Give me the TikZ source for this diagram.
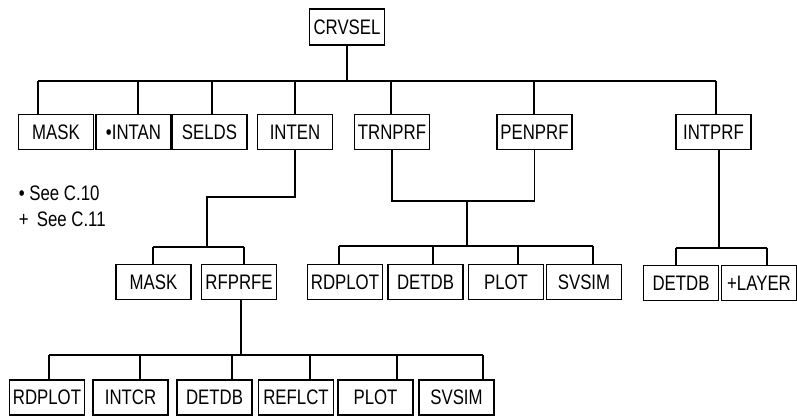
\documentclass[tikz,border=0pt]{standalone}
\usepackage{fontspec}
\usepackage{tikz}
\usetikzlibrary{positioning}
\newfontfamily\plotfont[FakeStretch=0.8]{Liberation Sans}
\tikzset{
    modbox/.style={draw, rectangle, minimum width=37.5pt, minimum height=17.5pt, inner sep=0pt, align=center, draw=black, fill=white, line width=0.9pt, font=\plotfont\fontsize{10.5}{12}\selectfont},
    link/.style={line width=0.9pt, draw=black},
    legend/.style={anchor=west, inner sep=0pt, font=\plotfont\fontsize{10.5}{12}\selectfont}
}

\begin{document}
\begin{tikzpicture}[x=0.5pt, y=-0.5pt, line width=0.9pt]

        \useasboundingbox (0,0) rectangle (797,416);

        % -----------------------------------------------------------------
        % RADICE
        % -----------------------------------------------------------------
        \node[modbox, minimum height=18pt] (crvsel) at (347,27) {CRVSEL};

        % -----------------------------------------------------------------
        % PRIMO LIVELLO
        % -----------------------------------------------------------------
        \node[modbox] (maskA)  at (56,132)    {MASK};
        \node[modbox] (intan)  at (133.5,132) {\textbullet INTAN};
        \node[modbox] (selds)  at (209.5,132) {SELDS};
        \node[modbox] (inten)  at (295,132)   {INTEN};
        \node[modbox] (trnprf) at (392,132)   {TRNPRF};
        \node[modbox] (penprf) at (534.5,132) {PENPRF};
        \node[modbox] (intprf) at (713.5,132) {INTPRF};

        \draw[link] (crvsel.south) -- (347,81);
        \draw[link] (38,81) -- (716,81);
        \foreach \n/\x in {maskA/38, intan/138, selds/212, inten/295, trnprf/391, penprf/534, intprf/716}
            \draw[link] (\x,81) -- (\x,81 |- \n.north);

        % legenda
        \node[legend] (noteA) at (18,193) {\textbullet\ See C.10};
        \node[legend] (noteB) at (18,219) {+ \,See C.11};

        % -----------------------------------------------------------------
        % SECONDO LIVELLO
        % -----------------------------------------------------------------
        \node[modbox] (maskB)   at (153.5,282) {MASK};
        \node[modbox] (rfprfe)  at (239,282)   {RFPRFE};
        \node[modbox] (rdplotB) at (345,282)   {RDPLOT};
        \node[modbox] (detdbB)  at (425.5,282) {DETDB};
        \node[modbox] (plotB)   at (506,282)   {PLOT};
        \node[modbox] (svsimB)  at (584,282)   {SVSIM};
        \node[modbox] (detdbC)  at (681,283)   {DETDB};
        \node[modbox] (layer)   at (759,283)   {+LAYER};

        % INTEN
        \draw[link] (inten.south) |- (207,197) -- (207,247);
        \draw[link] (153,247) -- (244,247);
        \draw[link] (153,247) -- (153,247 |- maskB.north);
        \draw[link] (244,247) -- (244,247 |- rfprfe.north);

        % TRNPRF + PENPRF
        \draw[link] (trnprf.south) |- (467,201) -| (penprf.south);
        \draw[link] (467,201) -- (467,246);
        \draw[link] (339,246) -- (593,246);
        \foreach \n/\x in {rdplotB/339, detdbB/433, plotB/518, svsimB/593}
            \draw[link] (\x,246) -- (\x,246 |- \n.north);

        % INTPRF
        \draw[link] (719,0 |- intprf.south) -- (719,248);
        \draw[link] (676,248) -- (767,248);
        \draw[link] (676,248) -- (676,248 |- detdbC.north);
        \draw[link] (767,248) -- (767,248 |- layer.north);

        % -----------------------------------------------------------------
        % TERZO LIVELLO
        % -----------------------------------------------------------------
        \node[modbox] (rdplotA) at (47,397.5)    {RDPLOT};
        \node[modbox] (intcr)   at (130.5,397.5) {INTCR};
        \node[modbox] (detdbA)  at (214.5,397.5) {DETDB};
        \node[modbox] (reflct)  at (296,397.5)   {REFLCT};
        \node[modbox] (plotA)   at (375.5,397.5) {PLOT};
        \node[modbox] (svsimA)  at (456.5,397.5) {SVSIM};

        \draw[link] (241,0 |- rfprfe.south) -- (241,355);
        \draw[link] (49,355) -- (483,355);
        \foreach \n/\x in {rdplotA/49, intcr/140, detdbA/232, reflct/310, plotA/397, svsimA/483}
            \draw[link] (\x,355) -- (\x,355 |- \n.north);

\end{tikzpicture}
\end{document}
